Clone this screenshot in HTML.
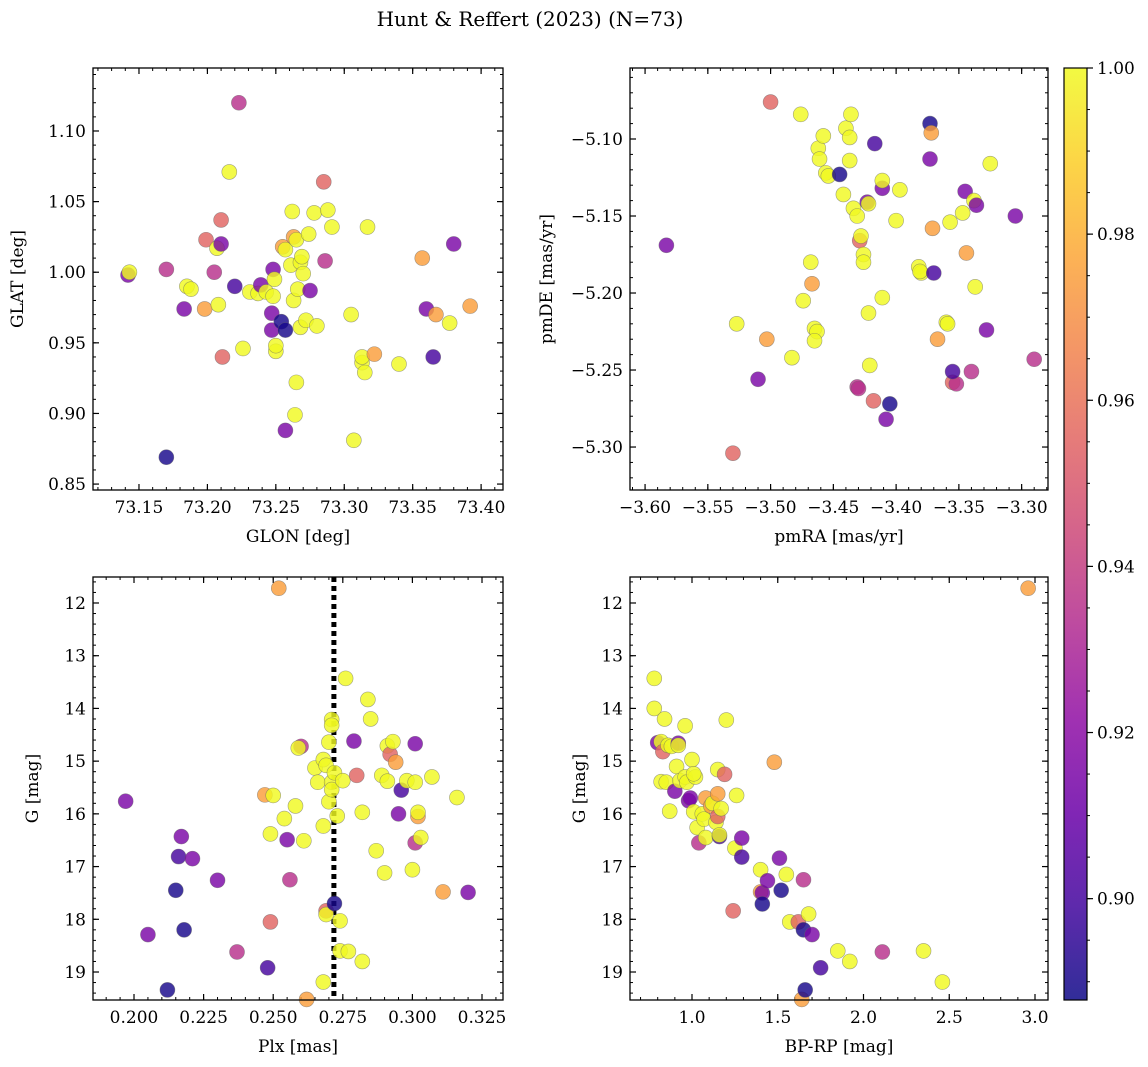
<!DOCTYPE html>
<html><head><meta charset="utf-8"><style>
html,body{margin:0;padding:0;background:#fff}
svg{display:block;font-family:"DejaVu Serif","Liberation Serif",serif}
</style></head><body>
<svg id="fig" width="1148" height="1067" viewBox="0 0 1148 1067" xmlns="http://www.w3.org/2000/svg">
<text x="530" y="26" font-size="20" text-anchor="middle">Hunt &amp; Reffert (2023) (N=73)</text>
</svg>
<script>
// ---- data ----
const glon=[73.142,73.143,73.17,73.17,73.183,73.185,73.188,73.198,73.199,73.205,73.207,73.208,73.210,73.210,73.211,73.216,73.220,73.223,73.226,73.231,73.237,73.239,73.243,73.247,73.247,73.248,73.248,73.249,73.250,73.250,73.254,73.255,73.257,73.257,73.257,73.261,73.262,73.263,73.263,73.265,73.264,73.265,73.266,73.268,73.268,73.269,73.270,73.272,73.274,73.275,73.278,73.280,73.285,73.286,73.288,73.291,73.305,73.307,73.313,73.313,73.315,73.317,73.322,73.340,73.357,73.360,73.365,73.367,73.377,73.380,73.392];
const glat=[0.998,1.000,0.869,1.002,0.974,0.990,0.988,0.974,1.023,1.000,1.017,0.977,1.037,1.020,0.940,1.071,0.990,1.120,0.946,0.986,0.985,0.991,0.986,0.971,0.959,1.002,0.983,0.995,0.944,0.948,0.965,1.018,1.016,0.959,0.888,1.005,1.043,0.980,1.025,1.023,0.899,0.922,0.988,0.961,1.007,1.011,0.999,0.966,1.027,0.987,1.042,0.962,1.064,1.008,1.044,1.032,0.970,0.881,0.936,0.940,0.929,1.032,0.942,0.935,1.010,0.974,0.940,0.970,0.964,1.020,0.976];
const prob1=[0.915,1,0.89,0.935,0.915,1,1,0.975,0.955,0.935,1,1,0.955,0.915,0.955,1,0.9,0.935,1,1,1,0.915,1,0.915,0.915,0.915,1,1,1,1,0.89,0.975,1,0.89,0.915,1,1,1,0.975,1,1,1,1,1,1,1,1,1,1,0.915,1,1,0.955,0.935,1,1,1,1,1,1,1,1,0.975,1,0.975,0.915,0.9,0.975,1,0.915,0.975];

const pmra=[-3.583,-3.530,-3.527,-3.510,-3.503,-3.500,-3.483,-3.476,-3.474,-3.468,-3.467,-3.465,-3.463,-3.465,-3.462,-3.461,-3.458,-3.456,-3.454,-3.445,-3.442,-3.440,-3.437,-3.436,-3.437,-3.434,-3.431,-3.431,-3.430,-3.429,-3.428,-3.426,-3.426,-3.423,-3.422,-3.422,-3.421,-3.418,-3.417,-3.411,-3.411,-3.411,-3.408,-3.405,-3.400,-3.397,-3.382,-3.380,-3.381,-3.373,-3.373,-3.372,-3.371,-3.370,-3.367,-3.360,-3.359,-3.357,-3.355,-3.352,-3.355,-3.347,-3.345,-3.344,-3.340,-3.338,-3.337,-3.336,-3.328,-3.325,-3.305,-3.290];
const pmde=[-5.169,-5.304,-5.220,-5.256,-5.230,-5.076,-5.242,-5.084,-5.205,-5.180,-5.194,-5.223,-5.225,-5.231,-5.106,-5.113,-5.098,-5.122,-5.124,-5.123,-5.136,-5.093,-5.114,-5.084,-5.099,-5.145,-5.150,-5.261,-5.262,-5.166,-5.163,-5.175,-5.180,-5.141,-5.142,-5.213,-5.247,-5.270,-5.103,-5.132,-5.127,-5.203,-5.282,-5.272,-5.153,-5.133,-5.183,-5.187,-5.186,-5.113,-5.090,-5.096,-5.158,-5.187,-5.230,-5.219,-5.220,-5.154,-5.258,-5.259,-5.251,-5.148,-5.134,-5.174,-5.251,-5.140,-5.196,-5.143,-5.224,-5.116,-5.150,-5.243];
const prob2=[0.915,0.955,1,0.915,0.975,0.955,1,1,1,1,0.975,1,1,1,1,1,1,1,1,0.89,1,1,1,1,1,1,1,0.935,0.935,0.955,1,1,1,0.915,1,1,1,0.955,0.9,0.915,1,1,0.915,0.89,1,1,1,1,1,0.915,0.89,0.975,0.975,0.9,0.975,1,1,1,0.955,0.935,0.9,1,0.915,0.975,0.935,1,1,0.915,0.915,1,0.915,0.935];

const plx=[0.197,0.205,0.212,0.215,0.216,0.217,0.218,0.221,0.230,0.237,0.247,0.249,0.250,0.249,0.248,0.252,0.254,0.255,0.256,0.258,0.260,0.259,0.261,0.262,0.265,0.266,0.268,0.268,0.269,0.269,0.269,0.268,0.270,0.271,0.271,0.270,0.271,0.271,0.272,0.272,0.273,0.274,0.274,0.275,0.276,0.277,0.279,0.280,0.282,0.282,0.284,0.285,0.287,0.290,0.289,0.291,0.291,0.292,0.294,0.293,0.295,0.296,0.298,0.301,0.301,0.300,0.301,0.302,0.302,0.303,0.307,0.311,0.316,0.320];
const gmag3=[15.76,18.29,19.34,17.45,16.81,16.43,18.20,16.85,17.26,18.62,15.64,16.38,15.65,18.05,18.92,11.72,16.09,16.49,17.25,15.85,14.72,14.75,16.51,19.52,15.13,15.40,16.23,14.97,15.08,17.84,17.91,19.19,14.64,14.21,14.32,15.77,15.40,15.54,17.70,15.22,16.04,18.03,18.60,15.37,13.43,18.61,14.62,15.27,15.97,18.80,13.83,14.20,16.70,17.12,15.27,14.71,15.38,14.87,15.02,14.63,16.00,15.55,15.37,14.67,15.40,17.06,16.55,16.05,15.97,16.45,15.30,17.48,15.69,17.49];
const prob3=[0.915,0.915,0.89,0.89,0.9,0.915,0.89,0.915,0.915,0.935,0.975,1,1,0.955,0.9,0.975,1,0.915,0.935,1,0.935,1,1,0.975,1,1,1,1,1,0.955,1,1,1,1,1,1,1,1,0.89,1,1,1,1,1,1,1,0.915,0.955,1,1,1,1,1,1,1,1,1,0.955,0.975,1,0.915,0.9,1,0.915,1,1,0.935,0.975,1,1,1,0.975,1,0.915];

const bprp=[0.78,0.78,0.80,0.82,0.83,0.82,0.85,0.84,0.86,0.88,0.87,0.90,0.91,0.92,0.92,0.93,0.96,0.96,0.97,0.98,0.99,1.00,1.01,1.02,1.01,1.03,1.04,1.06,1.07,1.08,1.08,1.11,1.12,1.14,1.15,1.15,1.15,1.16,1.16,1.17,1.19,1.20,1.24,1.25,1.26,1.29,1.29,1.40,1.40,1.41,1.41,1.44,1.48,1.51,1.52,1.55,1.57,1.62,1.65,1.64,1.65,1.66,1.68,1.70,1.75,1.85,1.92,2.11,2.35,2.46,2.96];
const gmag4=[13.43,14.00,14.65,14.63,14.82,15.39,15.40,14.20,14.70,14.72,15.95,15.57,15.10,14.66,14.70,15.37,15.30,14.33,15.40,15.75,15.70,14.97,15.96,15.30,15.24,16.26,16.55,16.00,16.10,15.70,16.45,15.85,15.80,16.16,15.62,16.05,15.16,16.43,16.40,15.90,15.25,14.22,17.84,16.65,15.65,16.46,16.82,17.48,17.06,17.50,17.71,17.27,15.02,16.84,17.45,17.15,18.05,18.05,18.20,19.52,17.25,19.34,17.90,18.29,18.92,18.60,18.80,18.62,18.60,19.19,11.72];
const prob4=[1,1,0.915,1,0.955,1,1,1,1,1,1,0.915,1,0.915,1,1,1,1,1,0.915,0.915,1,1,1,1,1,0.935,1,1,0.975,1,0.975,1,1,0.975,0.955,1,0.9,1,1,0.955,1,0.955,1,1,0.915,0.9,0.975,1,0.915,0.89,0.915,0.975,0.915,0.89,1,1,0.955,0.89,0.975,0.935,0.89,1,0.915,0.9,1,1,0.935,1,1,0.975];

const xTicks1=[73.15,73.20,73.25,73.30,73.35,73.40], yTicks1=[0.85,0.90,0.95,1.00,1.05,1.10];
const xTicks2=[-3.60,-3.55,-3.50,-3.45,-3.40,-3.35,-3.30], yTicks2=[-5.30,-5.25,-5.20,-5.15,-5.10];
const xTicks3=[0.200,0.225,0.250,0.275,0.300,0.325], yTicksG=[12,13,14,15,16,17,18,19];
const xTicks4=[1.0,1.5,2.0,2.5,3.0];
const cbTicks=[0.90,0.92,0.94,0.96,0.98,1.00];
const plxMean=0.2718;

// ---- helpers ----
const NS="http://www.w3.org/2000/svg";
const svg=document.getElementById('fig');
function mk(tag,attrs,parent){const e=document.createElementNS(NS,tag);for(const k in attrs)e.setAttribute(k,attrs[k]);(parent||svg).appendChild(e);return e;}
const plasma=["#0d0887","#41049d","#6a00a8","#8f0da4","#b12a90","#cc4778","#e16462","#f2844b","#fca636","#fcce25","#f0f921"];
const PMIN=0.8878,PMAX=1.0;
function hex(c){return [1,3,5].map(i=>parseInt(c.substr(i,2),16));}
function cmap(p){let t=(p-PMIN)/(PMAX-PMIN);t=Math.max(0,Math.min(1,t));const f=t*10,i=Math.min(9,Math.floor(f)),r=f-i;const a=hex(plasma[i]),b=hex(plasma[i+1]);return "rgb("+a.map((v,k)=>Math.round(v+(b[k]-v)*r)).join(",")+")";}
function fmt(v,d){return v.toFixed(d).replace("-","\u2212");}
const FS=17;

function panel(o){
  const {L,T,R,B,x0,x1,y0,y1,inv}=o;
  const sx=v=>L+(v-x0)/(x1-x0)*(R-L);
  const sy=inv?(v=>T+(v-y0)/(y1-y0)*(B-T)):(v=>B-(v-y0)/(y1-y0)*(B-T));
  const g=mk('g',{});
  
  
  const lo=Math.min(x0,x1),hi=Math.max(x0,x1);
  for(let v=Math.ceil(lo/o.xm-1e-6)*o.xm;v<=hi+1e-9;v+=o.xm){const x=sx(v);mk('line',{x1:x,x2:x,y1:B,y2:B-3,stroke:'#000','stroke-width':1},g);mk('line',{x1:x,x2:x,y1:T,y2:T+3,stroke:'#000','stroke-width':1},g);}
  const ylo=Math.min(y0,y1),yhi=Math.max(y0,y1);
  for(let v=Math.ceil(ylo/o.ym-1e-6)*o.ym;v<=yhi+1e-9;v+=o.ym){const y=sy(v);mk('line',{x1:L,x2:L+3,y1:y,y2:y,stroke:'#000','stroke-width':1},g);mk('line',{x1:R,x2:R-3,y1:y,y2:y,stroke:'#000','stroke-width':1},g);}
  o.xt.forEach(v=>{const x=sx(v);mk('line',{x1:x,x2:x,y1:B,y2:B-6,stroke:'#000','stroke-width':1.2},g);mk('line',{x1:x,x2:x,y1:T,y2:T+6,stroke:'#000','stroke-width':1.2},g);
    const t=mk('text',{x:x,y:B+23,'font-size':FS,'text-anchor':'middle'},g);t.textContent=fmt(v,o.xd);
    
    });
  o.yt.forEach(v=>{const y=sy(v);mk('line',{x1:L,x2:L+6,y1:y,y2:y,stroke:'#000','stroke-width':1.2},g);mk('line',{x1:R,x2:R-6,y1:y,y2:y,stroke:'#000','stroke-width':1.2},g);
    const t=mk('text',{x:L-7,y:y+6,'font-size':FS,'text-anchor':'end'},g);t.textContent=fmt(v,o.yd);
    
    });
  if(o.vline!==undefined){const x=sx(o.vline);const l=mk('line',{x1:x,x2:x,y1:T,y2:B,stroke:'#000','stroke-width':5,'stroke-dasharray':'5,4'},g);
    
    }
  o.xs.forEach((xv,i)=>{const c=mk('circle',{cx:sx(xv),cy:sy(o.ys[i]),r:7.5,fill:cmap(o.ps[i]),'fill-opacity':0.82,stroke:'#666','stroke-opacity':0.6,'stroke-width':0.6},g);
    
    });
  const fr=mk('rect',{x:L,y:T,width:R-L,height:B-T,fill:'none',stroke:'#000','stroke-width':1.3},g);
  
  
  const xl=mk('text',{x:(L+R)/2,y:B+52,'font-size':FS,'text-anchor':'middle'},g);xl.textContent=o.xlab;
  
  
  const yl=mk('text',{x:0,y:0,'font-size':FS,'text-anchor':'middle',transform:`translate(${o.ylx},${(T+B)/2}) rotate(-90)`},g);yl.textContent=o.ylab;
  
  
}

panel({name:'glon-glat-panel',L:93,T:68,R:503,B:490,x0:73.1164,x1:73.416,y0:0.8458,y1:1.1446,xm:0.01,ym:0.01,xt:xTicks1,yt:yTicks1,xd:2,yd:2,xs:glon,ys:glat,ps:prob1,xlab:'GLON [deg]',ylab:'GLAT [deg]',ylx:23});
panel({name:'pm-panel',L:630,T:68,R:1048,B:490,x0:-3.612,x1:-3.279,y0:-5.3279,y1:-5.0539,xm:0.01,ym:0.01,xt:xTicks2,yt:yTicks2,xd:2,yd:2,xs:pmra,ys:pmde,ps:prob2,xlab:'pmRA [mas/yr]',ylab:'pmDE [mas/yr]',ylx:552});
panel({name:'plx-g-panel',L:93,T:577,R:503,B:1000,x0:0.18527,x1:0.33254,y0:11.507,y1:19.531,inv:true,xm:0.005,ym:0.2,xt:xTicks3,yt:yTicksG,xd:3,yd:0,xs:plx,ys:gmag3,ps:prob3,xlab:'Plx [mas]',ylab:'G [mag]',ylx:38,vline:plxMean});
panel({name:'cmd-panel',L:630,T:577,R:1048,B:1000,x0:0.6385,x1:3.0758,y0:11.507,y1:19.531,inv:true,xm:0.1,ym:0.2,xt:xTicks4,yt:yTicksG,xd:1,yd:0,xs:bprp,ys:gmag4,ps:prob4,xlab:'BP-RP [mag]',ylab:'G [mag]',ylx:585});

// colorbar
const cbL=1064,cbR=1087,cbT=68,cbB=1000;
const defs=mk('defs',{});const lg=mk('linearGradient',{id:'cbg',x1:0,y1:1,x2:0,y2:0},defs);
plasma.forEach((c,i)=>mk('stop',{offset:(i/10),'stop-color':c,'stop-opacity':0.85},lg));
const cb=mk('g',{});


mk('rect',{x:cbL,y:cbT,width:cbR-cbL,height:cbB-cbT,fill:'url(#cbg)',stroke:'#000','stroke-width':1.2},cb);
const cy=v=>cbB-(v-PMIN)/(PMAX-PMIN)*(cbB-cbT);
for(let v=0.89;v<=1.0001;v+=0.005){mk('line',{x1:cbR,x2:cbR+3,y1:cy(v),y2:cy(v),stroke:'#000','stroke-width':1},cb);}
cbTicks.forEach(v=>{mk('line',{x1:cbR,x2:cbR+6,y1:cy(v),y2:cy(v),stroke:'#000','stroke-width':1.2},cb);
  const t=mk('text',{x:cbR+10,y:cy(v)+6,'font-size':FS},cb);t.textContent=v.toFixed(2);
  
  });
</script>
</body></html>
